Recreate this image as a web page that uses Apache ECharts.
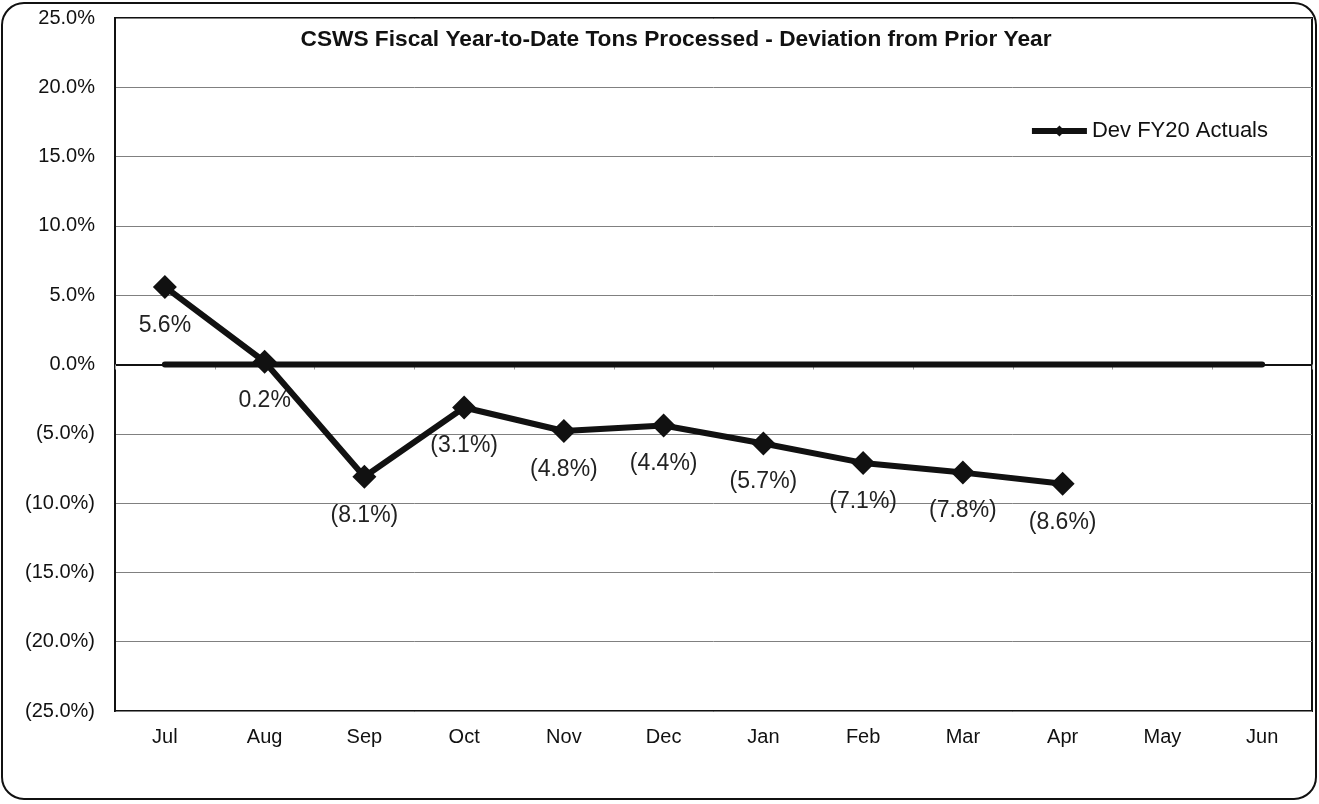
<!DOCTYPE html>
<html>
<head>
<meta charset="utf-8">
<script src="https://cdn.jsdelivr.net/npm/echarts@6/dist/echarts.min.js"></script>
<style>
  html, body { margin: 0; padding: 0; background: #fff; }
  #chart { width: 1319px; height: 804px; }
</style>
</head>
<body>
<div id="chart"></div>
<script>
// Fiscal months, July through June
const months = ['Jul', 'Aug', 'Sep', 'Oct', 'Nov', 'Dec', 'Jan', 'Feb', 'Mar', 'Apr', 'May', 'Jun'];
// Year-to-date deviation from prior year, percent
const devFY20 = [5.6, 0.2, -8.1, -3.1, -4.8, -4.4, -5.7, -7.1, -7.8, -8.6];
// Zero reference line across the whole year
const baseline = [0, 0, 0, 0, 0, 0, 0, 0, 0, 0, 0, 0];

const FONT = '"Liberation Sans", Arial, sans-serif';

function pct(v) {
  const s = Math.abs(v).toFixed(1) + '%';
  return v < 0 ? '(' + s + ')' : s;
}

const chart = echarts.init(document.getElementById('chart'));
chart.setOption({
  animation: false,
  backgroundColor: '#fff',
  textStyle: { fontFamily: FONT },
  title: {
    text: 'CSWS Fiscal Year-to-Date Tons Processed - Deviation from Prior Year',
    left: 671, top: 23, textAlign: 'center',
    textStyle: { fontFamily: FONT, fontSize: 22.7, fontWeight: 'bold', color: '#111' }
  },
  legend: {
    data: ['Dev FY20 Actuals'],
    right: 46, top: 115,
    itemWidth: 55, itemHeight: 14, itemGap: 2,
    lineStyle: { width: 6, color: '#111' },
    textStyle: { fontFamily: FONT, fontSize: 22, color: '#111' }
  },
  graphic: [{
    type: 'rect',
    shape: { x: 2, y: 3, width: 1314, height: 796, r: 22 },
    style: { fill: 'none', stroke: '#111', lineWidth: 2 },
    silent: true, z: -1
  }],
  grid: {
    left: 115, right: 7, top: 18, bottom: 93,
    show: true, borderColor: '#111', borderWidth: 2, backgroundColor: 'transparent'
  },
  xAxis: {
    type: 'category',
    data: months,
    boundaryGap: true,
    axisLine: { show: true, lineStyle: { color: '#111', width: 2 } },
    axisTick: { show: true, length: 5, lineStyle: { color: '#999' } },
    axisLabel: { fontFamily: FONT, fontSize: 20, color: '#111', margin: 16 }
  },
  yAxis: {
    type: 'value',
    min: -25, max: 25, interval: 5,
    axisLine: { show: true, lineStyle: { color: '#111', width: 2 } },
    axisTick: { show: false },
    splitLine: { lineStyle: { color: '#808080', width: 1 } },
    axisLabel: {
      fontFamily: FONT, fontSize: 20, color: '#111', margin: 20,
      formatter: pct
    }
  },
  series: [
    {
      name: 'Zero',
      type: 'line',
      data: baseline,
      symbol: 'none',
      lineStyle: { color: '#111', width: 6, cap: 'round' },
      z: 2,
      silent: true
    },
    {
      name: 'Dev FY20 Actuals',
      type: 'line',
      data: devFY20,
      symbol: 'diamond',
      symbolSize: 24,
      itemStyle: { color: '#111' },
      lineStyle: { color: '#111', width: 6 },
      z: 3,
      label: {
        show: true,
        position: 'bottom',
        distance: 15,
        fontFamily: FONT, fontSize: 23, color: '#222',
        formatter: p => pct(p.value)
      }
    }
  ]
});
</script>
</body>
</html>
